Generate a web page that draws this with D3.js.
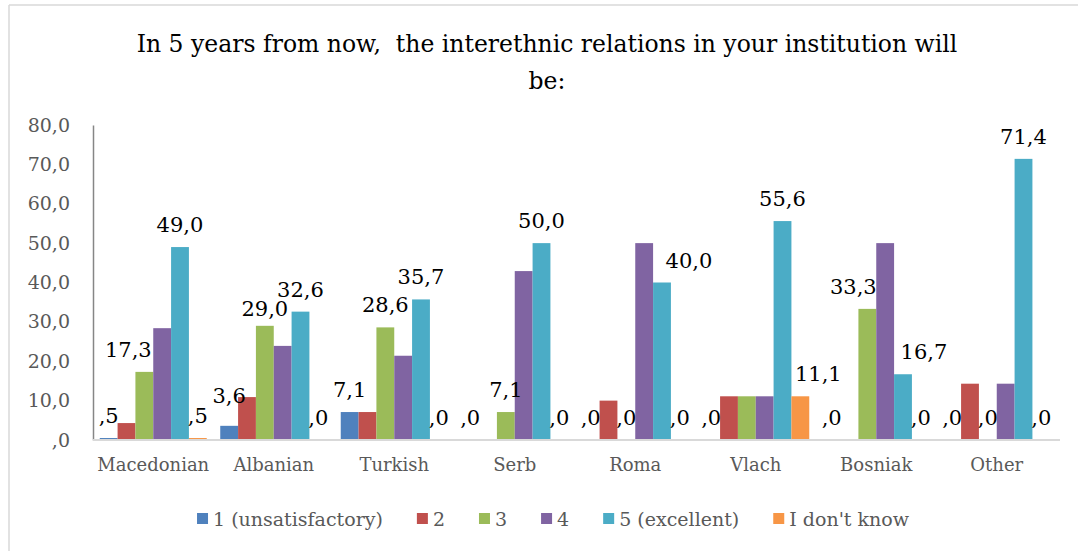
<!DOCTYPE html>
<html>
<head>
<meta charset="utf-8">
<script src="https://cdn.jsdelivr.net/npm/d3@7.9.0/dist/d3.min.js"></script>
<style>
  html, body { margin: 0; padding: 0; background: #fff; }
  svg { display: block; font-family: "DejaVu Serif", serif; }
</style>
</head>
<body>
<svg id="chart" width="1078" height="551"></svg>
<script>
// chart data
const titleLines = ["In 5 years from now,  the interethnic relations in your institution will", "be:"];
const categories = ["Macedonian", "Albanian", "Turkish", "Serb", "Roma", "Vlach", "Bosniak", "Other"];
const seriesNames = ["1 (unsatisfactory)", "2", "3", "4", "5 (excellent)", "I don't know"];
const s1 = [0.5, 3.6, 7.1, 0.0, 0.0, 0.0, 0.0, 0.0];
const s2 = [4.3, 10.9, 7.1, 0.0, 10.0, 11.1, 0.0, 14.3];
const s3 = [17.3, 29.0, 28.6, 7.1, 0.0, 11.1, 33.3, 0.0];
const s4 = [28.4, 23.9, 21.4, 42.9, 50.0, 11.1, 50.0, 14.3];
const s5 = [49.0, 32.6, 35.7, 50.0, 40.0, 55.6, 16.7, 71.4];
const s6 = [0.5, 0.0, 0.0, 0.0, 0.0, 11.1, 0.0, 0.0];
const yTicks = [0, 10, 20, 30, 40, 50, 60, 70, 80];
// only these series carry data labels in the original
const labelledSeries = [0, 2, 4, 5];
// single labels missing in the original (series index, category index)
const hiddenLabels = ["2,5"];

const series = [s1, s2, s3, s4, s5, s6];
const colors = ["#4F81BD", "#C0504D", "#9BBB59", "#8064A2", "#4BACC6", "#F79646"];

// hand-moved labels in the original (series index, category index) -> [dx, dy]
const labelNudge = {
  "2,0": [-16, 0], "0,1": [0, -8], "2,1": [0, 5], "4,4": [27, 0],
  "5,5": [18, 0], "2,6": [-14, 0], "4,6": [21, 0]
};

const svg = d3.select("#chart");
const fmt = v => d3.format(".1f")(v).replace(".", ",").replace(/^0,/, ",");

// frame edges
svg.append("line").attr("x1", 9).attr("x2", 1078).attr("y1", 5).attr("y2", 5)
  .attr("stroke", "#d9d9d9").attr("stroke-width", 1.5);
svg.append("line").attr("x1", 9).attr("x2", 9).attr("y1", 5).attr("y2", 551)
  .attr("stroke", "#d9d9d9").attr("stroke-width", 1.5);

// title
svg.append("text")
  .attr("text-anchor", "middle")
  .attr("font-size", 23.5)
  .attr("fill", "#000")
  .style("white-space", "pre")
  .selectAll("tspan")
  .data(titleLines)
  .join("tspan")
  .attr("x", 547)
  .attr("y", (d, i) => 52 + i * 37)
  .text(d => d);

const xGroup = d3.scaleBand()
  .domain(categories)
  .range([93, 1057])
  .paddingInner(0.112)
  .paddingOuter(0.056);

const xBar = d3.scaleBand()
  .domain(d3.range(series.length))
  .range([0, xGroup.bandwidth()]);

const y = d3.scaleLinear().domain([0, 80]).range([440, 125]);

// y axis
const yAxis = svg.append("g")
  .attr("transform", "translate(93,0)")
  .call(d3.axisLeft(y).tickValues(yTicks).tickFormat(fmt).tickSize(0).tickPadding(23));
yAxis.select(".domain").attr("stroke", "#868686").attr("stroke-width", 1.5);
yAxis.selectAll("text").attr("font-size", 19).attr("fill", "#595959")
  .attr("font-family", "DejaVu Serif");

// bars
const groups = svg.append("g").selectAll("g")
  .data(categories)
  .join("g")
  .attr("transform", d => `translate(${xGroup(d)},0)`);

groups.selectAll("rect")
  .data((c, ci) => series.map((s, si) => ({ si, ci, v: s[ci] })))
  .join("rect")
  .attr("x", d => xBar(d.si))
  .attr("width", xBar.bandwidth())
  .attr("y", d => y(d.v))
  .attr("height", d => y(0) - y(d.v))
  .attr("fill", d => colors[d.si]);

// x axis
const xAxis = svg.append("g")
  .attr("transform", "translate(0,440)")
  .call(d3.axisBottom(xGroup).tickSize(0).tickPadding(18).tickSizeOuter(0));
xAxis.select(".domain").attr("stroke", "#d9d9d9").attr("stroke-width", 2)
  .attr("d", "M93,0H1060");
xAxis.selectAll("text").attr("font-size", 18).attr("fill", "#595959")
  .attr("font-family", "DejaVu Serif");

// data labels
const labelData = [];
labelledSeries.forEach(si => categories.forEach((c, ci) => {
  if (!hiddenLabels.includes(si + "," + ci)) labelData.push({ si, ci, v: series[si][ci] });
}));
const nudge = d => labelNudge[d.si + "," + d.ci] || [0, 0];
svg.append("g").selectAll("text")
  .data(labelData)
  .join("text")
  .attr("text-anchor", "middle")
  .attr("font-size", 21)
  .attr("fill", "#000")
  .attr("x", d => xGroup(categories[d.ci]) + xBar(d.si) + xBar.bandwidth() / 2 + nudge(d)[0])
  .attr("y", d => y(d.v) - 15 + nudge(d)[1])
  .text(d => fmt(d.v));

// legend
const legend = svg.append("g").attr("transform", "translate(0,519)");
const items = legend.selectAll("g")
  .data(seriesNames)
  .join("g");
items.append("rect")
  .attr("width", 11).attr("height", 11).attr("y", -6)
  .attr("fill", (d, i) => colors[i]);
items.append("text")
  .attr("x", 16).attr("dy", "0.35em")
  .attr("font-size", 19).attr("fill", "#595959")
  .text(d => d);

const widths = [];
items.each(function () {
  widths.push(16 + this.querySelector("text").getComputedTextLength());
});
const gap = 34;
const total = d3.sum(widths) + gap * (widths.length - 1);
let cursor = 553 - total / 2;
items.attr("transform", (d, i) => {
  const x = cursor;
  cursor += widths[i] + gap;
  return `translate(${x},0)`;
});
</script>
</body>
</html>
